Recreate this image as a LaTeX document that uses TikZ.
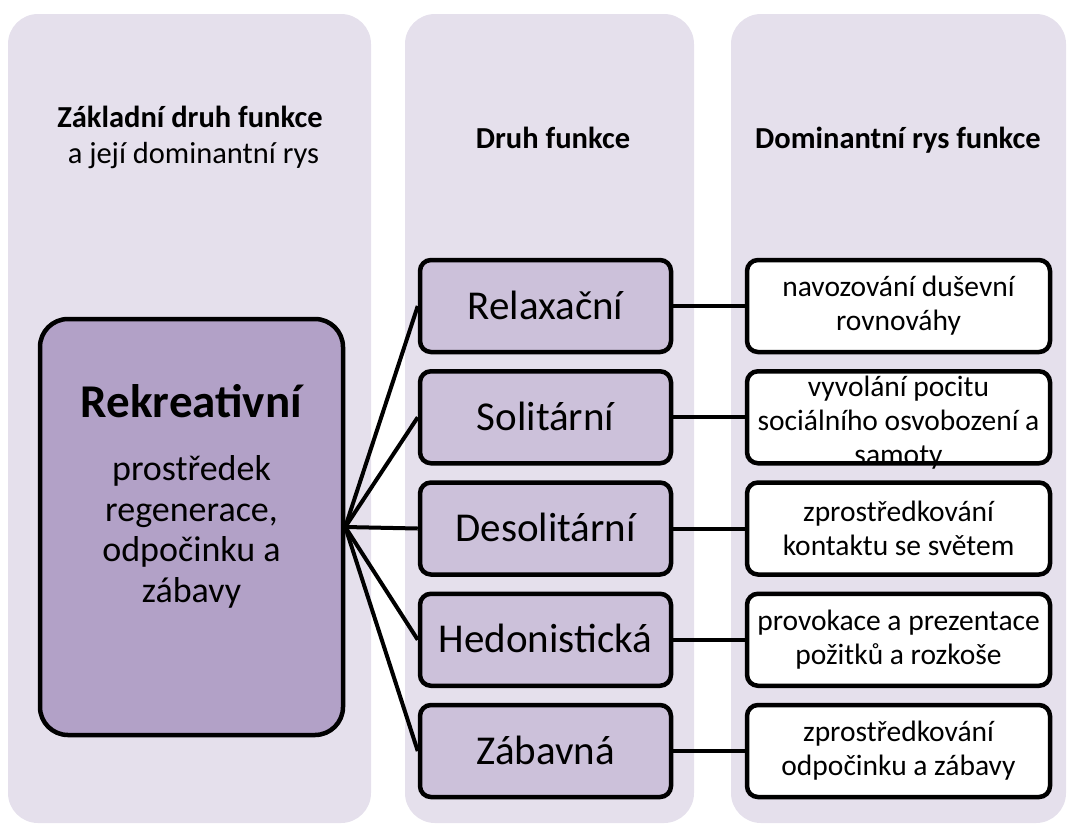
\documentclass[tikz,border=0pt]{standalone}
\usepackage{fontspec}
\setmainfont{Carlito}
\definecolor{colbg}{HTML}{E5E0EC}
\definecolor{mainfill}{HTML}{B2A1C7}
\definecolor{kindfill}{HTML}{CCC1DA}
\begin{document}
\begin{tikzpicture}[x=1pt,y=-1pt,
  colpanel/.style={fill=colbg, rounded corners=30pt},
  hdr/.style={font=\fontsize{30.5}{36}\selectfont, align=center, inner sep=0pt},
  mainbox/.style={draw, line width=4.5pt, fill=mainfill, rounded corners=28pt,
    minimum width=303pt, minimum height=416pt, inner sep=0pt},
  maintitle/.style={font=\fontsize{47}{56}\selectfont\bfseries, inner sep=0pt},
  maintext/.style={font=\fontsize{36}{40.7}\selectfont, align=center, inner sep=0pt},
  kindbox/.style={draw, line width=4.5pt, fill=kindfill, rounded corners=11pt,
    minimum width=251pt, minimum height=92pt, inner sep=0pt,
    font=\fontsize{41}{49}\selectfont, text height=26.4pt, text depth=0pt},
  featbox/.style={draw, line width=4.5pt, fill=white, rounded corners=11pt,
    minimum width=303pt, minimum height=92pt, inner sep=0pt},
  feattext/.style={font=\fontsize{29.5}{34}\selectfont, align=center, inner sep=0pt},
  link/.style={line width=4pt}
]
\useasboundingbox (0,0) rectangle (1068,823);
% column panels
\fill[colpanel] (8,14) rectangle (371,823);
\fill[colpanel] (405,14) rectangle (694,823);
\fill[colpanel] (731,14) rectangle (1066,823);
% headers
\node[hdr] (h1) at (190,137) {\textbf{Základní druh funkce}\\ \hspace*{0.226em}a její dominantní rys};
\node[hdr, anchor=base] (h2) at (553,148) {\textbf{Druh funkce}};
\node[hdr, anchor=base] (h3) at (898,148) {\textbf{Dominantní rys funkce}};
% main box
\node[mainbox] (main) at (191.5,527) {};
\node[maintitle, anchor=base] (mt) at (191.5,417) {Rekreativní};
\node[maintext] (mb) at (191.5,532) {prostředek\\regenerace,\\odpočinku a\\zábavy};
% kind boxes
\node[kindbox] (k1) at (545.5,306) {Relaxační};
\node[kindbox] (k2) at (545.5,417.25) {Solitární};
\node[kindbox] (k3) at (545.5,528.5) {Desolitární};
\node[kindbox] (k4) at (545.5,639.75) {Hedonistická};
\node[kindbox] (k5) at (545.5,751) {Zábavná};
% feature boxes
\node[featbox] (f1) at (898.5,306) {};
\node[featbox] (f2) at (898.5,417.25) {};
\node[featbox] (f3) at (898.5,528.5) {};
\node[featbox] (f4) at (898.5,639.75) {};
\node[featbox] (f5) at (898.5,751) {};
\node[feattext] (f1t) at (f1) {navozování duševní\\rovnováhy};
\node[feattext] (f2t) at ([yshift=-5pt]f2.center) {vyvolání pocitu\\sociálního osvobození a\\samoty};
\node[feattext] (f3t) at (f3) {zprostředkování\\kontaktu se světem};
\node[feattext] (f4t) at (f4) {provokace a prezentace\\požitků a rozkoše};
\node[feattext] (f5t) at (f5) {zprostředkování\\odpočinku a zábavy};
% connectors
\foreach \k in {1,...,5}{
  \draw[link] (main.east) -- (k\k.west);
  \draw[link] (k\k.east) -- (f\k.west);
}
\end{tikzpicture}
\end{document}
